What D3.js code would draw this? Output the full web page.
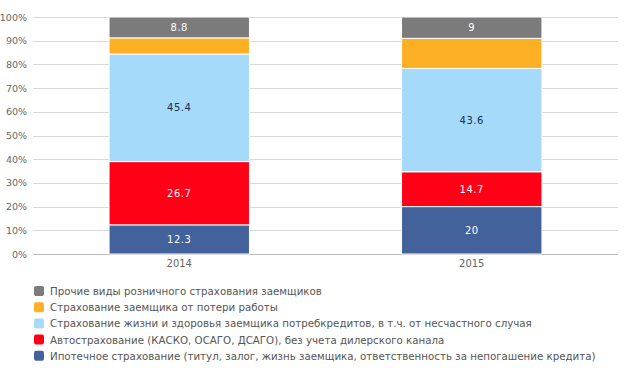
<!DOCTYPE html>
<html>
<head>
<meta charset="utf-8">
<script src="https://cdn.jsdelivr.net/npm/d3@7"></script>
<style>
  body { margin: 0; background: #fff; }
  text { font-family: "DejaVu Sans", Verdana, sans-serif; }
</style>
</head>
<body>
<div id="container"></div>
<script>
// data
const years = ["2014", "2015"];
const seriesNames = [
  "Ипотечное страхование (титул, залог, жизнь заемщика, ответственность за непогашение кредита)",
  "Автострахование (КАСКО, ОСАГО, ДСАГО), без учета дилерского канала",
  "Страхование жизни и здоровья заемщика потребкредитов, в т.ч. от несчастного случая",
  "Страхование заемщика от потери работы",
  "Прочие виды розничного страхования заемщиков"
];
const mortgage = [12.3, 20];
const auto = [26.7, 14.7];
const life = [45.4, 43.6];
const jobLoss = [6.8, 12.7];
const other = [8.8, 9];
const yTicks = [0, 10, 20, 30, 40, 50, 60, 70, 80, 90, 100];

const colors = ["#43629c", "#ff0017", "#a5dafa", "#fdb024", "#7b7b7b"];
const labelColors = ["#fff", "#fff", "#1f2d4a", null, "#fff"];

const width = 624, height = 368,
  margin = { top: 17, bottom: 114, left: 33, right: 6 };

const values = [mortgage, auto, life, jobLoss, other];
const rows = years.map((y, i) => {
  const r = { year: y };
  values.forEach((v, k) => r["s" + k] = v[i]);
  return r;
});
const keys = values.map((v, k) => "s" + k);
const stacked = d3.stack().keys(keys)(rows);

const svg = d3.select("#container").append("svg")
  .attr("width", width).attr("height", height);

const x = d3.scaleBand().domain(years)
  .range([margin.left, width - margin.right]).paddingInner(0.52).paddingOuter(0.26);
const y = d3.scaleLinear().domain([0, 100])
  .range([height - margin.bottom, margin.top]);

// grid
svg.append("g").selectAll("line")
  .data(yTicks)
  .join("line")
  .attr("x1", margin.left).attr("x2", width - margin.right)
  .attr("y1", d => Math.round(y(d)) + 0.5).attr("y2", d => Math.round(y(d)) + 0.5)
  .attr("stroke", d => d === 0 ? "#bbb" : "#d8d8d8");

svg.append("g").selectAll("text")
  .data(yTicks)
  .join("text")
  .attr("x", 27).attr("y", d => y(d) + 3.5)
  .attr("text-anchor", "end")
  .attr("font-size", 9.5).attr("fill", "#666")
  .text(d => d + "%");

// bars
const layers = svg.append("g").selectAll("g")
  .data(stacked)
  .join("g")
  .attr("fill", (d, i) => colors[i]);

layers.selectAll("rect")
  .data(d => d)
  .join("rect")
  .attr("x", d => x(d.data.year))
  .attr("width", x.bandwidth())
  .attr("y", d => y(d[1]))
  .attr("height", d => y(d[0]) - y(d[1]))
  .attr("stroke", "#fff").attr("stroke-width", 1);

// value labels
stacked.forEach((layer, i) => {
  if (!labelColors[i]) return;
  svg.append("g").selectAll("text")
    .data(layer)
    .join("text")
    .attr("x", d => x(d.data.year) + x.bandwidth() / 2)
    .attr("y", d => (y(d[0]) + y(d[1])) / 2 + 3.5)
    .attr("text-anchor", "middle")
    .attr("font-size", 10).attr("letter-spacing", 0.5)
    .attr("fill", labelColors[i])
    .text(d => d.data["s" + i]);
});

// x labels
svg.append("g").selectAll("text")
  .data(years)
  .join("text")
  .attr("x", d => x(d) + x.bandwidth() / 2)
  .attr("y", 267)
  .attr("text-anchor", "middle")
  .attr("font-size", 10).attr("fill", "#666")
  .text(d => d);

// legend (reverse order: top is last series)
const legendItems = seriesNames.map((n, i) => ({ name: n, color: colors[i] })).reverse();
const legend = svg.append("g").selectAll("g")
  .data(legendItems)
  .join("g")
  .attr("transform", (d, i) => `translate(34,${286 + i * 16.2})`);

legend.append("rect")
  .attr("x", 0).attr("y", 0).attr("width", 10).attr("height", 10)
  .attr("rx", 2).attr("fill", d => d.color);

legend.append("text")
  .attr("x", 16).attr("y", 9)
  .attr("font-size", 10.25).attr("fill", "#555")
  .text(d => d.name);
</script>
</body>
</html>
